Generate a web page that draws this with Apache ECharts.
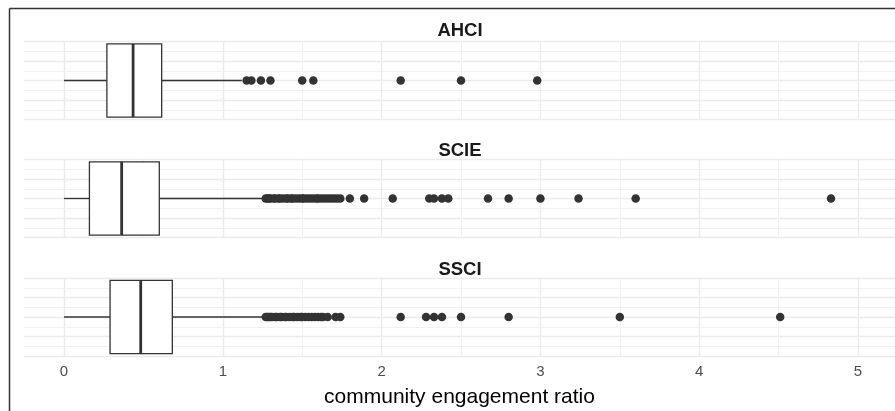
<!DOCTYPE html>
<html>
<head>
<meta charset="utf-8">
<script src="https://cdn.jsdelivr.net/npm/echarts@6/dist/echarts.min.js"></script>
<style>
html,body{margin:0;padding:0;background:#fff;}
#chart{width:895px;height:411px;}
</style>
</head>
<body>
<div id="chart"></div>
<script>
// ---- data ----
const panels = ['AHCI', 'SCIE', 'SSCI'];
// [lower whisker, Q1, median, Q3, upper whisker]
const boxAHCI = [0, 0.27, 0.435, 0.615, 1.12];
const boxSCIE = [0, 0.16, 0.363, 0.60, 1.255];
const boxSSCI = [0, 0.29, 0.483, 0.682, 1.255];
const outAHCI = [1.15, 1.18, 1.24, 1.30, 1.50, 1.57, 2.12, 2.50, 2.98];
const outSCIE = [1.27, 1.28, 1.29, 1.30, 1.32, 1.33, 1.35, 1.36, 1.38, 1.40, 1.41, 1.43, 1.44, 1.46,
                 1.48, 1.50, 1.51, 1.53, 1.55, 1.57, 1.59, 1.60, 1.62, 1.64, 1.66, 1.68, 1.70, 1.72,
                 1.74, 1.80, 1.89, 2.07, 2.30, 2.33, 2.38, 2.42, 2.67, 2.80, 3.00, 3.24, 3.60, 4.83];
const outSSCI = [1.27, 1.28, 1.29, 1.30, 1.31, 1.33, 1.34, 1.36, 1.37, 1.39, 1.40, 1.42, 1.44, 1.45,
                 1.47, 1.49, 1.50, 1.52, 1.54, 1.56, 1.58, 1.60, 1.62, 1.63, 1.66, 1.71, 1.74,
                 2.12, 2.28, 2.33, 2.38, 2.50, 2.80, 3.50, 4.51];
const xMajorTicks = [0, 1, 2, 3, 4, 5];
const xMinorTicks = [0.5, 1.5, 2.5, 3.5, 4.5];
const xLabels = ['0', '1', '2', '3', '4', '5'];
const axisTitle = 'community engagement ratio';

const boxes = [boxAHCI, boxSCIE, boxSSCI];
const outliers = [outAHCI, outSCIE, outSSCI];

// ---- layout ----
const gridTops = [41.5, 159.5, 278];
const gridH = 78;
const titleCenters = [31.7, 151.7, 270.5];
const FONT = 'Liberation Sans, Arial, sans-serif';
const BOXHALF = 0.375;

const grids = [], xAxes = [], yAxes = [], series = [], titles = [];

panels.forEach((name, i) => {
  grids.push({ left: 24, right: 0, top: gridTops[i], height: gridH, containLabel: false });
  xAxes.push({
    type: 'value', gridIndex: i, min: -0.252, max: 5.233,
    axisLine: { show: false }, axisTick: { show: false }, splitLine: { show: false },
    axisLabel: {
      show: i === 2, customValues: xMajorTicks, margin: 8,
      color: '#4d4d4d', fontSize: 15, fontFamily: FONT,
      formatter: v => xLabels[xMajorTicks.indexOf(v)] ?? String(v)
    },
    name: i === 2 ? axisTitle : '',
    nameLocation: 'middle', nameGap: 31,
    nameTextStyle: { color: '#000', fontSize: 21, fontFamily: FONT }
  });
  yAxes.push({
    type: 'value', gridIndex: i, min: -0.4, max: 0.4, interval: 0.2,
    axisLine: { show: false }, axisTick: { show: false }, axisLabel: { show: false },
    splitLine: { show: true, lineStyle: { color: '#ebebeb', width: 1.3 } },
    minorTick: { show: false, splitNumber: 2 },
    minorSplitLine: { show: true, lineStyle: { color: '#efefef', width: 0.9 } }
  });
  titles.push({
    text: name, left: 460, textAlign: 'center', top: titleCenters[i] - 10.5, padding: 0,
    textStyle: { fontSize: 18.5, fontWeight: 'bold', color: '#1a1a1a', fontFamily: FONT }
  });
  // vertical grid lines from tick arrays
  series.push({
    type: 'line', xAxisIndex: i, yAxisIndex: i, data: [], silent: true, z: 0,
    markLine: {
      silent: true, symbol: 'none', label: { show: false }, animation: false, z: 0,
      data: xMajorTicks.map(v => ({ xAxis: v, lineStyle: { color: '#ebebeb', width: 1.4, type: 'solid' } }))
        .concat(xMinorTicks.map(v => ({ xAxis: v, lineStyle: { color: '#efefef', width: 0.9, type: 'solid' } })))
    }
  });
  // box + whiskers
  series.push({
    type: 'custom', xAxisIndex: i, yAxisIndex: i, z: 10, silent: true,
    data: [boxes[i]],
    encode: { x: [0, 1, 2, 3, 4], y: -1 },
    renderItem: (params, api) => {
      const lo = api.value(0), q1 = api.value(1), md = api.value(2), q3 = api.value(3), hi = api.value(4);
      const pLo = api.coord([lo, 0]), pQ1 = api.coord([q1, 0]), pMd = api.coord([md, 0]);
      const pQ3 = api.coord([q3, 0]), pHi = api.coord([hi, 0]);
      const yTop = api.coord([q1, BOXHALF])[1], yBot = api.coord([q1, -BOXHALF])[1];
      const stroke = '#333333';
      return {
        type: 'group',
        children: [
          { type: 'line', shape: { x1: pLo[0], y1: pLo[1], x2: pQ1[0], y2: pQ1[1] }, style: { stroke, lineWidth: 1.3 } },
          { type: 'line', shape: { x1: pQ3[0], y1: pQ3[1], x2: pHi[0], y2: pHi[1] }, style: { stroke, lineWidth: 1.3 } },
          { type: 'rect', shape: { x: pQ1[0], y: yTop, width: pQ3[0] - pQ1[0], height: yBot - yTop },
            style: { fill: '#ffffff', stroke, lineWidth: 1.3 } },
          { type: 'line', shape: { x1: pMd[0], y1: yTop, x2: pMd[0], y2: yBot }, style: { stroke, lineWidth: 2.8 } }
        ]
      };
    }
  });
  // outliers
  series.push({
    type: 'scatter', xAxisIndex: i, yAxisIndex: i, z: 11, silent: true,
    symbol: 'circle', symbolSize: 8.5,
    itemStyle: { color: '#333333', opacity: 1 },
    data: outliers[i].map(v => [v, 0])
  });
});

const chart = echarts.init(document.getElementById('chart'), null, { renderer: 'canvas' });
chart.setOption({
  animation: false,
  backgroundColor: '#ffffff',
  title: titles,
  grid: grids,
  xAxis: xAxes,
  yAxis: yAxes,
  series: series,
  graphic: [
    { type: 'line', shape: { x1: 9.5, y1: 8.5, x2: 895, y2: 8.5 }, style: { stroke: '#333333', lineWidth: 1.5 }, silent: true },
    { type: 'line', shape: { x1: 9.5, y1: 8.5, x2: 9.5, y2: 411 }, style: { stroke: '#333333', lineWidth: 1.5 }, silent: true }
  ]
});
</script>
</body>
</html>
